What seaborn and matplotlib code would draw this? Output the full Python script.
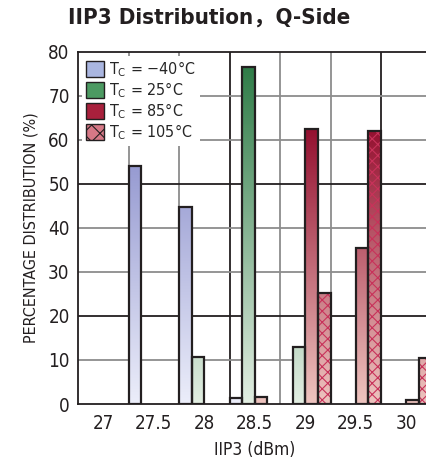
import numpy as np
import pandas as pd
import matplotlib
matplotlib.use("Agg")
import matplotlib.pyplot as plt
import seaborn as sns
from matplotlib.colors import LinearSegmentedColormap
from matplotlib.patches import Patch, Rectangle

# --- data ---
iip3_bins = ["27", "27.5", "28", "28.5", "29", "29.5", "30"]
temps = ["T$_\\mathregular{C}$ = \u221240\u00b0C", "T$_\\mathregular{C}$ = 25\u00b0C",
         "T$_\\mathregular{C}$ = 85\u00b0C", "T$_\\mathregular{C}$ = 105\u00b0C"]
pct_m40 = [0, 54.0, 44.7, 1.3, 0, 0, 0]
pct_25 = [0, 0, 10.7, 76.6, 12.9, 0, 0]
pct_85 = [0, 0, 0, 1.6, 62.4, 35.4, 0.9]
pct_105 = [0, 0, 0, 0, 25.3, 62.1, 10.5]

rows = []
for t, vals in zip(temps, [pct_m40, pct_25, pct_85, pct_105]):
    for b, v in zip(iip3_bins, vals):
        rows.append({"IIP3": b, "Temp": t, "Pct": v})
df = pd.DataFrame(rows)

sns.set_theme(style="white")
plt.rcParams["font.family"] = ["DejaVu Sans", "Noto Sans CJK SC"]
plt.rcParams["font.stretch"] = "condensed"
plt.rcParams["mathtext.default"] = "regular"
plt.rcParams["hatch.linewidth"] = 0.8

# gradient colormaps (light at 0 -> dark at top)
cmaps = [
    LinearSegmentedColormap.from_list("m40", ["#eceefa", "#6e73be"]),
    LinearSegmentedColormap.from_list("c25", ["#e2eee2", "#2c7a45"]),
    LinearSegmentedColormap.from_list("c85", ["#eec4bf", "#8c0023"]),
    LinearSegmentedColormap.from_list("c105", ["#eec4bf", "#8c0023"]),
]
grad_top = [80, 78, 68, 68]
edge_col = "#231f20"

fig = plt.figure(figsize=(4.27, 4.63), dpi=100)
ax = fig.add_axes([78 / 427, 59 / 463, 353.5 / 427, 352.3 / 463])

sns.barplot(data=df, x="IIP3", y="Pct", hue="Temp", hue_order=temps,
            order=iip3_bins, width=1.0, gap=0, ax=ax, legend=False,
            edgecolor=edge_col, linewidth=1.6, zorder=3)

for k, cont in enumerate(ax.containers):
    for bar in cont:
        h = bar.get_height()
        if h <= 0:
            bar.set_visible(False)
            continue
        x0 = bar.get_x()
        w = bar.get_width()
        bar.set_facecolor("none")
        grad = np.linspace(0, 80 / grad_top[k], 256).clip(0, 1).reshape(-1, 1)
        im = ax.imshow(grad, cmap=cmaps[k], vmin=0, vmax=1, origin="lower",
                       extent=[x0, x0 + w, 0, 80], aspect="auto", zorder=2,
                       interpolation="bilinear")
        im.set_clip_path(bar)
        if k == 3:
            ax.add_patch(Rectangle((x0, 0), w, h, fill=False, hatch="xxx",
                                   edgecolor="#c8325a", linewidth=0, zorder=2.5))

ax.set_xlim(-0.5, 6.5)
ax.set_ylim(0, 80)

# grid: gray lines with a darker line every third division
for i in range(1, 7):
    xv = i - 0.5
    ax.axvline(xv, color="#231f20" if i in (3, 6) else "#8c8c8c", lw=1.3, zorder=1)
for yv in range(10, 80, 10):
    ax.axhline(yv, color="#231f20" if yv in (20, 50) else "#8c8c8c", lw=1.3, zorder=1)

for s in ax.spines.values():
    s.set_color(edge_col)
    s.set_linewidth(1.3)

ax.set_yticks(range(0, 81, 10))
ax.tick_params(axis="both", length=0, labelsize=13.5, colors="#231f20")
ax.tick_params(axis="x", pad=7)
ax.tick_params(axis="y", pad=6)
ax.set_xlabel("IIP3 (dBm)", fontsize=12.5, color="#231f20", labelpad=6)
ax.set_ylabel("PERCENTAGE DISTRIBUTION (%)", fontsize=11.5, color="#231f20", labelpad=7)

fig.text(0.49, 0.962, "IIP3 Distribution\uff0cQ-Side", ha="center", va="center",
         fontsize=16, fontweight="bold", color="#231f20")

handles = [
    Patch(facecolor="#aab6e0", edgecolor=edge_col, lw=1),
    Patch(facecolor="#4c9a62", edgecolor=edge_col, lw=1),
    Patch(facecolor="#a8203c", edgecolor=edge_col, lw=1),
    Patch(facecolor="#d67886", edgecolor=edge_col, lw=1, hatch="xx"),
]
leg = ax.legend(handles, temps, loc="upper left", bbox_to_anchor=(0.0, 1.0),
                fontsize=11.5, frameon=True, handlelength=1.15, handleheight=1.15,
                handletextpad=0.3, labelspacing=0.08, borderpad=0.25,
                borderaxespad=0.25)
leg.get_frame().set_facecolor("white")
leg.get_frame().set_edgecolor("none")
leg.get_frame().set_alpha(1)
leg.set_zorder(5)

fig.savefig("out.png", dpi=100)
